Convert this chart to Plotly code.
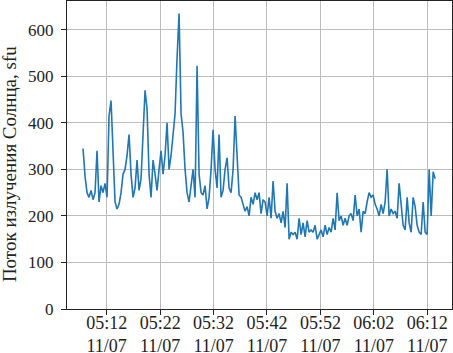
import plotly.graph_objects as go
import pandas as pd

# Solar radio flux, sfu (~22.5 s cadence)
flux_values = [
    345, 285, 250, 240, 255, 235, 250, 340, 230, 265,
    250, 270, 240, 415, 448, 330, 230, 215, 225, 250,
    290, 300, 330, 375, 290, 240, 260, 320, 255, 280,
    380, 470, 430, 290, 240, 320, 290, 255, 300, 340,
    290, 330, 400, 300, 330, 375, 420, 540, 635, 420,
    380, 300, 250, 230, 260, 300, 240, 523, 290, 250,
    245, 265, 215, 240, 300, 385, 300, 260, 375, 240,
    255, 300, 325, 260, 250, 300, 415, 330, 245, 240,
    225, 210, 220, 200, 240, 225, 250, 235, 250, 205,
    235, 230, 200, 240, 195, 275, 210, 195, 205, 185,
    210, 175, 270, 150, 165, 160, 165, 150, 195, 160,
    185, 155, 190, 165, 170, 165, 180, 150, 160, 170,
    155, 180, 160, 175, 165, 195, 170, 250, 190, 200,
    180, 195, 180, 200, 205, 190, 245, 200, 215, 165,
    210, 205, 230, 250, 240, 245, 225, 215, 200, 225,
    205, 230, 300, 200, 215, 205, 210, 195, 270, 220,
    180, 170, 240, 185, 165, 240, 220, 180, 165, 160,
    230, 165, 160, 300, 200, 295, 280,
]
start_time = "2023-11-07 05:07:34"
step_seconds = 22.47
times = pd.Timestamp(start_time) + pd.to_timedelta([i * step_seconds for i in range(len(flux_values))], unit="s")

tick_times = ["2023-11-07 05:12", "2023-11-07 05:22", "2023-11-07 05:32", "2023-11-07 05:42",
              "2023-11-07 05:52", "2023-11-07 06:02", "2023-11-07 06:12"]
tick_labels = ["05:12<br>11/07", "05:22<br>11/07", "05:32<br>11/07", "05:42<br>11/07",
               "05:52<br>11/07", "06:02<br>11/07", "06:12<br>11/07"]
y_ticks = [0, 100, 200, 300, 400, 500, 600]
y_label = "Поток излучения Солнца, sfu"

fig = go.Figure()
fig.add_trace(go.Scatter(x=times, y=flux_values, mode="lines",
                         line=dict(color="#1f77b4", width=1.6)))

font_family = "Liberation Serif"
text_color = "#222222"
fig.update_layout(
    width=453, height=353,
    margin=dict(l=67, r=1, t=1, b=44, autoexpand=False),
    plot_bgcolor="white", paper_bgcolor="white",
    showlegend=False,
    font=dict(family=font_family, color=text_color, size=16),
)
fig.add_annotation(
    text=y_label, xref="paper", yref="paper", x=-0.151, y=0.47,
    textangle=-90, showarrow=False, xanchor="center", yanchor="middle",
    font=dict(size=19, family=font_family, color=text_color),
)
fig.update_xaxes(
    range=["2023-11-07 05:04:34", "2023-11-07 06:16:38"],
    tickvals=tick_times, ticktext=tick_labels,
    tickfont=dict(size=18, family=font_family, color=text_color),
    ticklabelstandoff=-8,
    showgrid=True, gridcolor="#bdbdbd", gridwidth=1,
    showline=True, linecolor="#222222", linewidth=1, mirror=True,
    ticks="outside", ticklen=5, tickcolor="#222222",
    zeroline=False, automargin=False,
)
fig.update_yaxes(
    range=[0, 662],
    tickvals=y_ticks,
    tickfont=dict(size=17, family=font_family, color=text_color),
    ticklabelstandoff=4,
    showgrid=True, gridcolor="#bdbdbd", gridwidth=1,
    showline=True, linecolor="#222222", linewidth=1, mirror=True,
    ticks="outside", ticklen=5, tickcolor="#222222",
    zeroline=False, automargin=False,
)
fig.write_html("out.html", config={"displayModeBar": False},
               post_script="document.body.style.margin='0';document.body.style.overflow='hidden';")
